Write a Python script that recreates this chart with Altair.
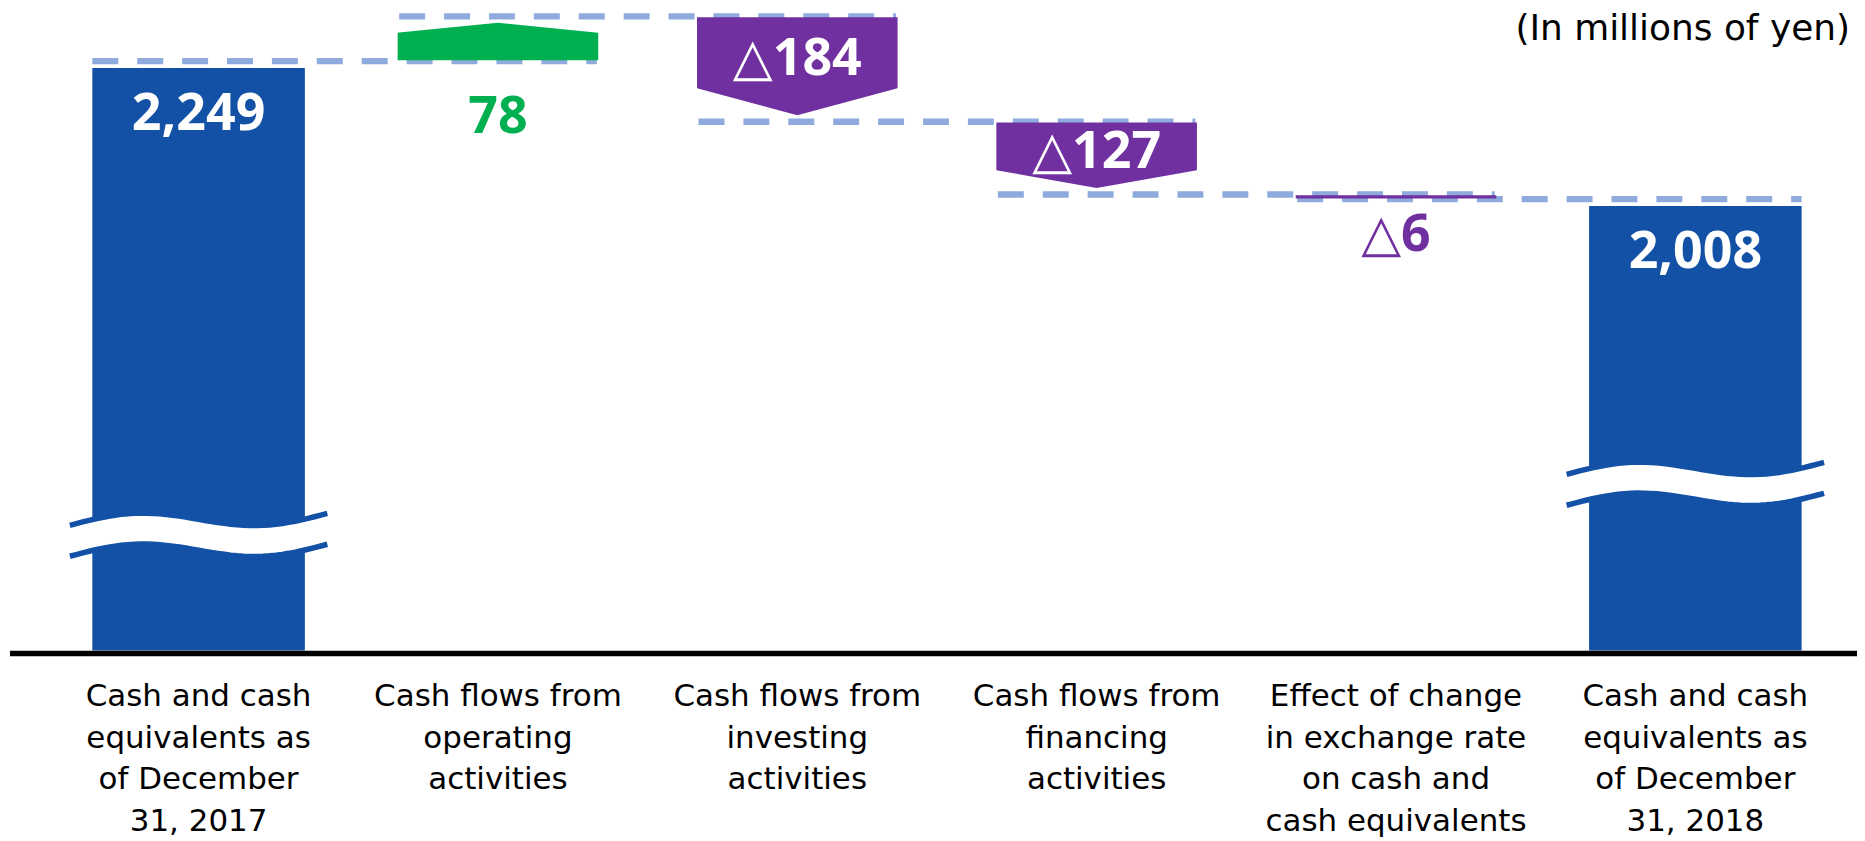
import altair as alt
import pandas as pd
import numpy as np

# ---------------- data ----------------
categories = [
    "Cash and cash\nequivalents as\nof December\n31, 2017",
    "Cash flows from\noperating\nactivities",
    "Cash flows from\ninvesting\nactivities",
    "Cash flows from\nfinancing\nactivities",
    "Effect of change\nin exchange rate\non cash and\ncash equivalents",
    "Cash and cash\nequivalents as\nof December\n31, 2018",
]
start_value = 2249
flow_values = [78, -184, -127, -6]
end_value = 2008
unit_note = "(In millions of yen)"

# ---------------- style / layout ----------------
W, H = 1853, 833
PLOT_BOTTOM = 643
Y_BASE, Y_MAX = 1220, 2340
K = PLOT_BOTTOM / (Y_MAX - Y_BASE)          # px per unit
Y_LOW = Y_MAX - H / K
X0_PX, STEP_PX = 191, 300
X_DOMAIN = [-X0_PX / STEP_PX, (W - X0_PX) / STEP_PX]

BLUE = "#1251A6"
GREEN = "#00B050"
PURPLE = "#7030A0"
DASH = "#8FAADC"
BAR_HW, FLOW_HW, BREAK_HW = 0.355, 0.33, 0.43
BREAK_LEVELS = [1422, 1511]
BREAK_GAP_PX = 31
NUM_FONT = "Open Sans, DejaVu Sans, sans-serif"
LBL_FONT = "DejaVu Sans, sans-serif"

xs = alt.Scale(domain=X_DOMAIN, nice=False, zero=False)
ys = alt.Scale(domain=[Y_LOW, Y_MAX], nice=False, zero=False)


def X(f):
    return alt.X(f, type="quantitative", scale=xs, axis=None)


def Y(f):
    return alt.Y(f, type="quantitative", scale=ys, axis=None)


def fmt(v):
    return f"{v:,}" if v >= 0 else "\u25b3" + f"{abs(v):,}"


# ---------------- derived tables ----------------
cum = [start_value]
for f in flow_values:
    cum.append(cum[-1] + f)

bars_df = pd.DataFrame({
    "xl": [0 - BAR_HW, 5 - BAR_HW],
    "xr": [0 + BAR_HW, 5 + BAR_HW],
    "xc": [0, 5],
    "value": [start_value, end_value],
    "base": [Y_BASE, Y_BASE],
    "label": [fmt(start_value), fmt(end_value)],
})

hws = [BAR_HW] + [FLOW_HW] * len(flow_values) + [BAR_HW]
conn_levels = cum[:len(flow_values)] + [end_value]
conn_df = pd.DataFrame({
    "x1": [i - hws[i] for i in range(5)],
    "x2": [i + 1 + hws[i + 1] for i in range(5)],
    "level": conn_levels,
})

arrow_rows = []
inside_lbl, below_pos, below_neg = [], [], []
for j, f in enumerate(flow_values):
    idx = j + 1
    s = 1 if f > 0 else -1
    a = cum[j] + s * 4
    tip = cum[j + 1] - s * min(14, 0.25 * abs(f))
    side = a + 0.72 * (tip - a)
    col = GREEN if f > 0 else PURPLE
    xs3 = [idx - FLOW_HW, idx, idx + FLOW_HW]
    if s > 0:
        up, lo = [side, tip, side], [a, a, a]
    else:
        up, lo = [a, a, a], [side, tip, side]
    for xx, u, l in zip(xs3, up, lo):
        arrow_rows.append({"id": j, "x": xx, "up": u, "lo": l, "col": col})
    if abs(f) >= 100:
        inside_lbl.append({"x": idx, "y": (a + side) / 2, "label": fmt(f)})
    elif f > 0:
        below_pos.append({"x": idx, "y": cum[j], "label": fmt(f)})
    else:
        below_neg.append({"x": idx, "y": cum[j + 1], "label": fmt(f)})
arrow_df = pd.DataFrame(arrow_rows)

t = np.linspace(0, 1, 41)
s_px = 6 * (1 - 2 * t) - 9 * np.sin(2 * np.pi * t)
brk_area, brk_line = [], []
for b, (idx, lvl) in enumerate(zip([0, 5], BREAK_LEVELS)):
    xx = idx - BREAK_HW + 2 * BREAK_HW * t
    center = lvl - s_px / K
    upper = center + BREAK_GAP_PX / 2 / K
    lower = center - BREAK_GAP_PX / 2 / K
    for k in range(len(t)):
        brk_area.append({"b": b, "x": xx[k], "up": upper[k], "lo": lower[k]})
        brk_line.append({"g": f"{b}u", "x": xx[k], "y": upper[k]})
        brk_line.append({"g": f"{b}l", "x": xx[k], "y": lower[k]})
brk_area_df = pd.DataFrame(brk_area)
brk_line_df = pd.DataFrame(brk_line)

cat_df = pd.DataFrame({"x": list(range(len(categories))), "label": categories})
base_df = pd.DataFrame({"base": [Y_BASE]})
note_df = pd.DataFrame({"label": [unit_note]})

# ---------------- layers ----------------
bars = alt.Chart(bars_df).mark_bar(color=BLUE, yOffset=7).encode(
    x=X("xl"), x2="xr", y=Y("value"), y2="base")

brk_fill = alt.Chart(brk_area_df).mark_area(color="white").encode(
    x=X("x"), y=Y("up"), y2="lo", detail="b:N")
brk_lines = alt.Chart(brk_line_df).mark_line(
    color=BLUE, strokeWidth=5.5, strokeCap="butt").encode(
    x=X("x"), y=Y("y"), detail="g:N")

conns = alt.Chart(conn_df).mark_rule(
    color=DASH, strokeWidth=6.3, strokeDash=[26, 19], strokeCap="butt").encode(
    x=X("x1"), x2="x2", y=Y("level"))

arrows = alt.Chart(arrow_df).mark_area(strokeWidth=3, strokeJoin="miter").encode(
    x=X("x"), y=Y("up"), y2="lo", detail="id:N",
    color=alt.Color("col:N", scale=None), stroke=alt.Stroke("col:N", scale=None))

axis_line = alt.Chart(base_df).mark_rule(
    color="black", strokeWidth=5.5, yOffset=3).encode(
    x=alt.value(2), x2=alt.value(W), y=Y("base"))

bar_lbl = alt.Chart(bars_df).mark_text(
    font=NUM_FONT, fontWeight="bold", fontSize=52, color="white",
    baseline="alphabetic", dy=69).encode(x=X("xc"), y=Y("value"), text="label:N")

in_lbl = alt.Chart(pd.DataFrame(inside_lbl)).mark_text(
    font=NUM_FONT, fontWeight="bold", fontSize=52, color="white",
    baseline="alphabetic", dy=22).encode(x=X("x"), y=Y("y"), text="label:N")

pos_lbl = alt.Chart(pd.DataFrame(below_pos)).mark_text(
    font=NUM_FONT, fontWeight="bold", fontSize=52, color=GREEN,
    baseline="alphabetic", dy=72).encode(x=X("x"), y=Y("y"), text="label:N")

neg_lbl = alt.Chart(pd.DataFrame(below_neg)).mark_text(
    font=NUM_FONT, fontWeight="bold", fontSize=52, color=PURPLE,
    baseline="alphabetic", dy=53).encode(x=X("x"), y=Y("y"), text="label:N")

cat_lbl = alt.Chart(cat_df).mark_text(
    font=LBL_FONT, fontSize=31, color="black", lineBreak="\n", lineHeight=41.5,
    baseline="alphabetic", align="center").encode(
    x=X("x"), y=alt.value(699), text="label:N")

note = alt.Chart(note_df).mark_text(
    font=LBL_FONT, fontSize=36, color="black", align="right",
    baseline="alphabetic").encode(
    x=alt.value(W - 7), y=alt.value(31), text="label:N")

chart = alt.layer(
    bars, brk_fill, brk_lines, conns, arrows, axis_line,
    bar_lbl, in_lbl, pos_lbl, neg_lbl, cat_lbl, note,
).properties(
    width=W, height=H, padding=0,
    autosize=alt.AutoSizeParams(type="none"),
).configure_view(stroke=None)

chart.save("out.html", embed_options={"renderer": "svg", "actions": False})
